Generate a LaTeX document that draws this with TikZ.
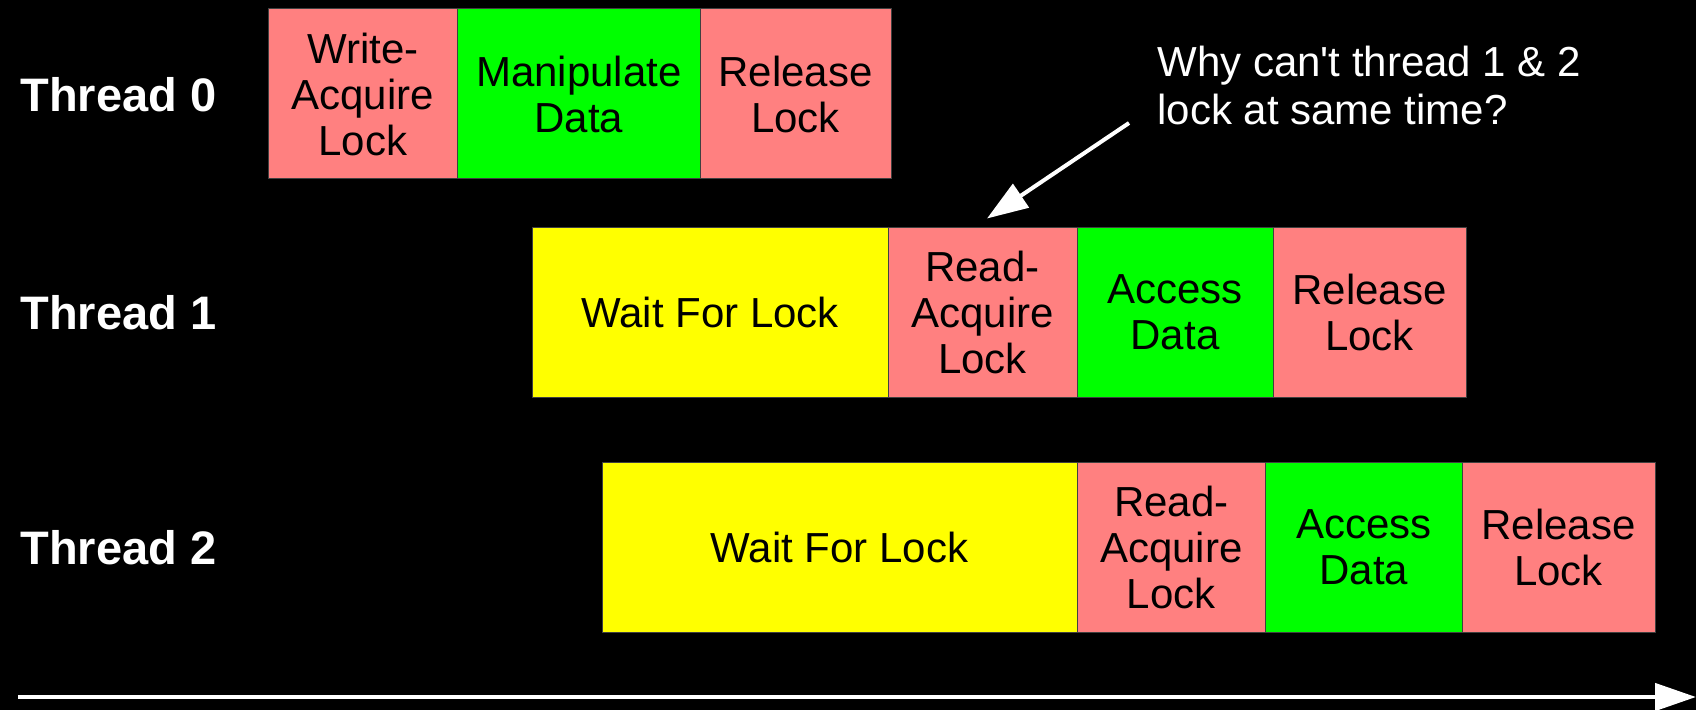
\documentclass[tikz,border=0pt]{standalone}
\usepackage{fontspec}
\setmainfont{Liberation Sans}
\usetikzlibrary{arrows.meta}
\definecolor{salmon}{HTML}{FF8080}
\definecolor{brightgreen}{HTML}{00FF00}
\definecolor{brightyellow}{HTML}{FFFF00}
\begin{document}
\begin{tikzpicture}[x=0.5pt,y=-0.5pt,
  cell/.style={draw=black!75, line width=0.5pt, minimum height=85pt, inner sep=0pt, outer sep=0pt,
    align=center, text=black, font=\fontsize{21}{23}\selectfont},
  lockbox/.style={cell, fill=salmon},
  databox/.style={cell, fill=brightgreen},
  waitbox/.style={cell, fill=brightyellow},
  threadlabel/.style={anchor=west, text=white, inner sep=0pt, font=\fontsize{23.5}{28}\selectfont\bfseries},
  notetext/.style={anchor=north west, text=white, inner sep=0pt, align=left, font=\fontsize{21}{24}\selectfont},
  notearrow/.style={draw=white, line width=2pt, -{Triangle[length=20.5pt,width=14pt]}, fill=white},
  timeline/.style={draw=white, line width=2.25pt, -{Triangle[length=20.5pt,width=13.5pt]}, fill=white}]
\fill[black] (0,0) rectangle (1696,710);
\useasboundingbox (0,0) rectangle (1696,710);

% Thread labels
\node[threadlabel] (t0) at (20,94.5) {Thread 0};
\node[threadlabel] (t1) at (20,312.5) {Thread 1};
\node[threadlabel] (t2) at (20,547.5) {Thread 2};

% Thread 0
\node[lockbox, minimum width=94.75pt] (w0a) at (362.75,94) {Write-\\Acquire\\Lock};
\node[databox, minimum width=121.25pt] (w0b) at (578.75,94) {Manipulate\\Data};
\node[lockbox, minimum width=95.5pt] (w0c) at (795.5,94) {Release\\Lock};

% Thread 1
\node[waitbox, minimum width=178pt] (r1a) at (710,312.5) {Wait For Lock};
\node[lockbox, minimum width=94.5pt] (r1b) at (982.5,312.5) {Read-\\Acquire\\Lock};
\node[databox, minimum width=98pt] (r1c) at (1175,312.5) {Access\\Data};
\node[lockbox, minimum width=96.5pt] (r1d) at (1369.5,312.5) {Release\\Lock};

% Thread 2
\node[waitbox, minimum width=237.5pt] (r2a) at (839.5,547.5) {Wait For Lock};
\node[lockbox, minimum width=94.25pt] (r2b) at (1171.25,547.5) {Read-\\Acquire\\Lock};
\node[databox, minimum width=98.25pt] (r2c) at (1363.75,547.5) {Access\\Data};
\node[lockbox, minimum width=96.5pt] (r2d) at (1558.5,547.5) {Release\\Lock};

% Annotation
\node[notetext] (note) at (1157,46) {Why can\textquotesingle t thread 1 \& 2\\lock at same time?};
\coordinate (qs) at (1129,123);
\draw[notearrow] (qs) -- ([xshift=2.25pt,yshift=4.5pt]r1b.north);

% Time axis
\coordinate (tl) at (18,697);
\coordinate (tr) at (1696,697);
\draw[timeline] (tl) -- (tr);
\end{tikzpicture}
\end{document}
